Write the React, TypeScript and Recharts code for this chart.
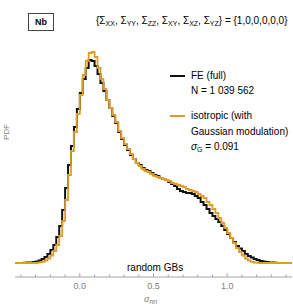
import React from 'react';
import { ComposedChart, Line, XAxis, YAxis } from 'recharts';

// histogram bins of sigma_nn, width 0.02, left edges from -0.44 to 1.44
const BIN_START = -0.44;
const BIN_WIDTH = 0.02;

// FE (full), N = 1 039 562
const fePdf = [
  0, 0, 0, 0.002, 0.004, 0.006, 0.01, 0.015, 0.025, 0.04,
  0.06, 0.09, 0.13, 0.18, 0.26, 0.37, 0.53, 0.75, 0.98, 1.17,
  1.36, 1.54, 1.7, 1.84, 1.95, 2.03, 2.02, 1.97, 1.89, 1.8,
  1.72, 1.63, 1.55, 1.47, 1.4, 1.31, 1.24, 1.18, 1.13, 1.08,
  1.04, 1.0, 0.98, 0.95, 0.93, 0.92, 0.9, 0.88, 0.87, 0.85,
  0.84, 0.83, 0.81, 0.79, 0.77, 0.74, 0.72, 0.71, 0.7, 0.7,
  0.69, 0.67, 0.65, 0.61, 0.58, 0.54, 0.5, 0.47, 0.44, 0.41,
  0.37, 0.33, 0.29, 0.25, 0.21, 0.17, 0.145, 0.12, 0.09, 0.07,
  0.055, 0.04, 0.03, 0.02, 0.015, 0.01, 0.006, 0.004, 0.002, 0.001,
  0, 0, 0, 0, 0,
];

// isotropic (with Gaussian modulation), sigma_G = 0.091
const isoPdf = [
  0, 0, 0, 0, 0, 0, 0, 0.002, 0.006, 0.012,
  0.025, 0.045, 0.075, 0.12, 0.18, 0.27, 0.42, 0.63, 0.88, 1.12,
  1.31, 1.49, 1.68, 1.88, 2.02, 2.1, 2.11, 2.06, 1.95, 1.84,
  1.74, 1.63, 1.55, 1.48, 1.41, 1.32, 1.25, 1.19, 1.14, 1.09,
  1.04, 1.0, 0.97, 0.94, 0.92, 0.91, 0.89, 0.87, 0.86, 0.85,
  0.84, 0.83, 0.82, 0.8, 0.79, 0.78, 0.77, 0.76, 0.74, 0.73,
  0.72, 0.71, 0.69, 0.67, 0.65, 0.61, 0.58, 0.54, 0.5, 0.45,
  0.4, 0.35, 0.3, 0.25, 0.2, 0.15, 0.11, 0.075, 0.045, 0.025,
  0.012, 0.005, 0.002, 0, 0, 0, 0, 0, 0, 0,
  0, 0, 0, 0, 0,
];

const xTicks = [-0.4, -0.3, -0.2, -0.1, 0, 0.1, 0.2, 0.3, 0.4, 0.5, 0.6, 0.7, 0.8, 0.9, 1.0, 1.1, 1.2, 1.3, 1.4];
const majorTicks = [0, 0.5, 1.0];

const stressComponents = ['XX', 'YY', 'ZZ', 'XY', 'XZ', 'YZ'];
const stressValues = [1, 0, 0, 0, 0, 0];

const FE_COLOR = '#111';
const ISO_COLOR = '#E19C24';
const FRAME = '#a6a6a6';
const LABEL = '#808080';
const FONT = '"Liberation Sans", Arial, sans-serif';

const data = fePdf.map((fe, i) => ({
  x: +(BIN_START + i * BIN_WIDTH).toFixed(2),
  fe,
  iso: isoPdf[i],
}));

const isMajor = (v: number) => majorTicks.some((m) => Math.abs(m - v) < 1e-6);

const BottomTick = (props: any) => {
  const { x, y, payload } = props;
  const major = isMajor(payload.value);
  return (
    <g>
      <line x1={x} x2={x} y1={y} y2={y - (major ? 4 : 2.5)} stroke={FRAME} />
      {major && (
        <text x={x} y={y + 11.5} textAnchor="middle" fontSize={9} fill={LABEL} fontFamily={FONT}>
          {payload.value.toFixed(1)}
        </text>
      )}
    </g>
  );
};

const TopTick = (props: any) => {
  const { x, y, payload } = props;
  const major = isMajor(payload.value);
  return <line x1={x} x2={x} y1={y} y2={y + (major ? 4 : 2.5)} stroke={FRAME} />;
};

const abs = (left: number, top: number, extra: React.CSSProperties = {}): React.CSSProperties => ({
  position: 'absolute',
  left,
  top,
  whiteSpace: 'nowrap',
  lineHeight: '12px',
  ...extra,
});

export default function App() {
  return (
    <div style={{ position: 'absolute', left: 0, top: 0, width: 293, height: 306, fontFamily: FONT, background: '#fff' }}>
      <ComposedChart width={293} height={306} data={data} margin={{ top: 1, right: 1, bottom: 0, left: 15 }}>
        <XAxis
          dataKey="x"
          type="number"
          domain={[-0.44, 1.44]}
          ticks={xTicks}
          interval={0}
          height={29}
          stroke={FRAME}
          tickSize={0}
          tickMargin={0}
          tick={<BottomTick />}
          allowDataOverflow
        />
        <XAxis
          xAxisId="top"
          orientation="top"
          dataKey="x"
          type="number"
          domain={[-0.44, 1.44]}
          ticks={xTicks}
          interval={0}
          height={0}
          stroke={FRAME}
          tickSize={0}
          tickMargin={0}
          tick={<TopTick />}
          allowDataOverflow
        />
        <YAxis domain={[-0.14, 2.62]} width={0} tick={false} stroke={FRAME} allowDataOverflow />
        <YAxis yAxisId="right" orientation="right" domain={[-0.14, 2.62]} width={0} tick={false} stroke={FRAME} />
        <Line
          type="stepAfter"
          dataKey="fe"
          stroke={FE_COLOR}
          strokeWidth={2}
          dot={false}
          isAnimationActive={false}
        />
        <Line
          type="stepAfter"
          dataKey="iso"
          stroke={ISO_COLOR}
          strokeWidth={1.8}
          dot={false}
          isAnimationActive={false}
        />
      </ComposedChart>

      {/* Nb box */}
      <div
        style={abs(28, 13, {
          width: 24,
          height: 16,
          border: '1px solid #444',
          fontSize: 9,
          fontWeight: 'bold',
          lineHeight: '16px',
          textAlign: 'center',
        })}
      >
        Nb
      </div>

      {/* stress state */}
      <div style={abs(96, 15, { fontSize: 10 })}>
        {'{'}
        {stressComponents.map((c, i) => (
          <span key={c}>
            Σ<sub style={{ fontSize: 7, verticalAlign: '-2px' }}>{c}</sub>
            {i < stressComponents.length - 1 ? ', ' : ''}
          </span>
        ))}
        {'} = {'}
        {stressValues.join(',')}
        {'}'}
      </div>

      {/* legend */}
      <div style={abs(170, 75, { width: 15, height: 2, background: FE_COLOR })} />
      <div style={abs(191, 70, { fontSize: 10 })}>FE (full)</div>
      <div style={abs(191, 85, { fontSize: 10 })}>N = 1 039 562</div>
      <div style={abs(170, 115, { width: 15, height: 2, background: ISO_COLOR })} />
      <div style={abs(191, 110, { fontSize: 10 })}>isotropic (with</div>
      <div style={abs(191, 126, { fontSize: 10 })}>Gaussian modulation)</div>
      <div style={abs(191, 141, { fontSize: 10 })}>
        <i>σ</i>
        <sub style={{ fontSize: 7, verticalAlign: '-2px' }}>G</sub> = 0.091
      </div>

      <div style={abs(127, 262, { fontSize: 10 })}>random GBs</div>

      {/* axis labels */}
      <div style={abs(0, 127, { fontSize: 8, color: LABEL, transform: 'rotate(-90deg)', transformOrigin: '7px 6px', width: 14, textAlign: 'center' })}>
        PDF
      </div>
      <div style={abs(144, 293, { fontSize: 9, color: LABEL })}>
        <i>σ</i>
        <sub style={{ fontSize: 7, verticalAlign: '-2px' }}>nn</sub>
      </div>
    </div>
  );
}
